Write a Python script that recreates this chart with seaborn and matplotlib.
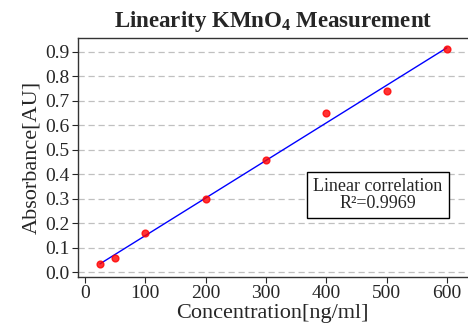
import matplotlib
matplotlib.use('Agg')
import matplotlib.pyplot as plt
import pandas as pd
import seaborn as sns

# Data
concentration = [25, 50, 100, 200, 300, 400, 500, 600]
absorbance = [0.035, 0.057, 0.158, 0.297, 0.457, 0.649, 0.742, 0.910]
x_ticks = [0, 100, 200, 300, 400, 500, 600]
y_ticks = [0.0, 0.1, 0.2, 0.3, 0.4, 0.5, 0.6, 0.7, 0.8, 0.9]
r_squared = 0.9969

df = pd.DataFrame({'conc': concentration, 'abs': absorbance})

sns.set_style('ticks')
plt.rcParams['font.family'] = ['Liberation Serif', 'DejaVu Serif']
plt.rcParams['mathtext.fontset'] = 'custom'
plt.rcParams['mathtext.rm'] = 'Liberation Serif'
plt.rcParams['mathtext.bf'] = 'Liberation Serif:bold'

fig = plt.figure(figsize=(4.68, 3.33), dpi=100)
ax = fig.add_axes([0.166, 0.168, 0.834, 0.718])

ax.yaxis.grid(True, linestyle=(0, (5, 3)), color='#c0c0c0', linewidth=0.9)
ax.set_axisbelow(True)

sns.regplot(data=df, x='conc', y='abs', ax=ax, ci=None,
            scatter_kws={'color': 'red', 's': 24, 'zorder': 3},
            line_kws={'color': 'blue', 'linewidth': 1.0})

ax.set_xlim(-12, 635)
ax.set_ylim(-0.02, 0.957)
ax.set_xticks(x_ticks)
ax.set_yticks(y_ticks)
ax.set_yticklabels([f'{v:.1f}' for v in y_ticks])
ax.tick_params(labelsize=14, length=4, width=0.8, direction='out', pad=2)

ax.set_xlabel('Concentration[ng/ml]', fontsize=16, labelpad=1)
ax.set_ylabel('Absorbance[AU]', fontsize=16, labelpad=3)
ax.set_title('Linearity KMnO$_\\mathbf{4}$ Measurement', fontsize=16.5,
             fontweight='bold', pad=8)

for side in ['left', 'bottom', 'top']:
    ax.spines[side].set_color('#333333')
    ax.spines[side].set_linewidth(1.0)
ax.spines['right'].set_visible(False)

ax.text(0.769, 0.343, f'Linear correlation\nR\u00b2={r_squared}',
        transform=ax.transAxes, ha='center', va='center', fontsize=13,
        linespacing=1.0,
        bbox=dict(boxstyle='square,pad=0.35', facecolor='white',
                  edgecolor='black', linewidth=1.0))

fig.savefig('out.png', dpi=100)
